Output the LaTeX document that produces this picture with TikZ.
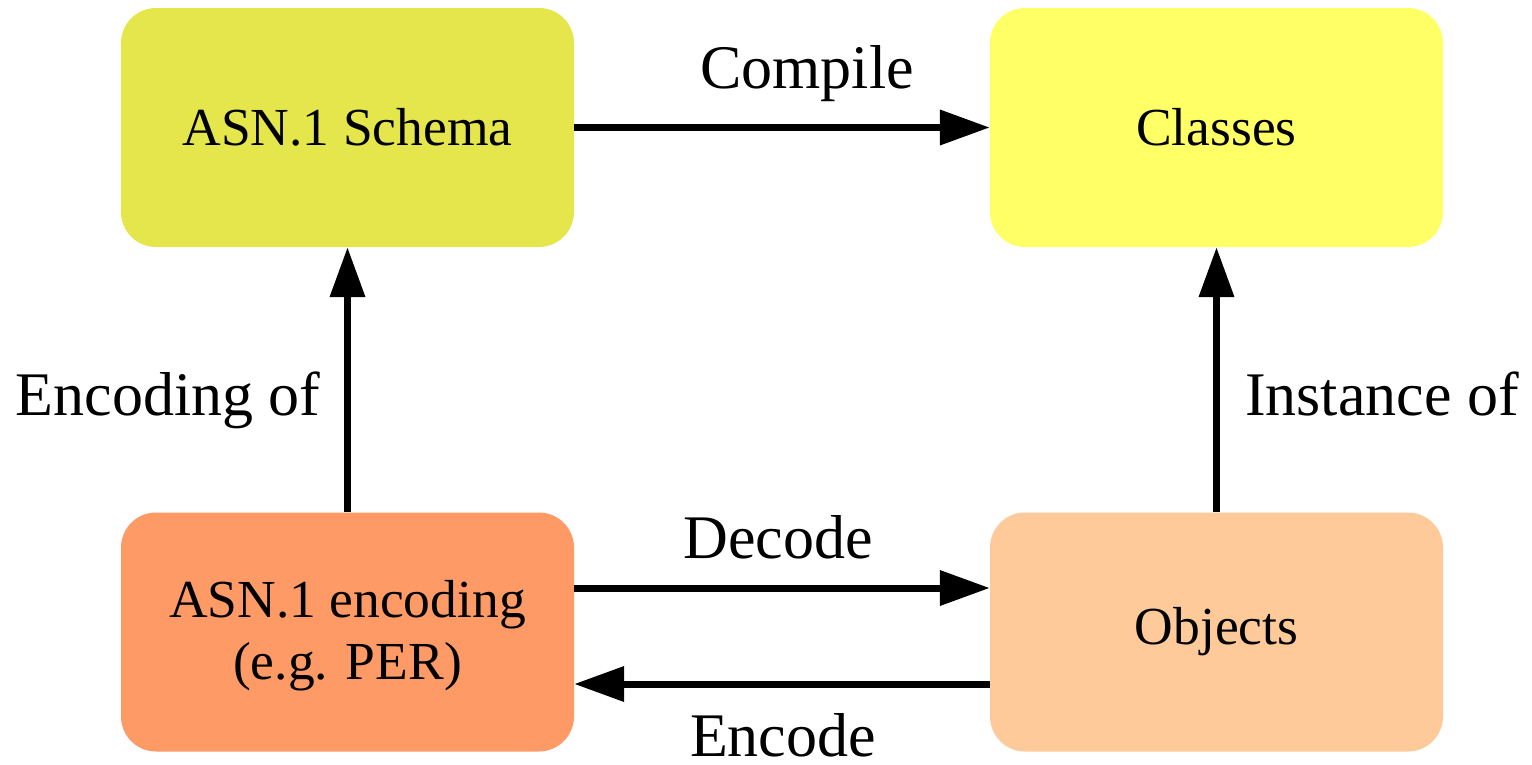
\documentclass[tikz,border=0pt]{standalone}
\usepackage{fontspec}
\setmainfont{Liberation Serif}
\usetikzlibrary{arrows.meta}
\definecolor{cschema}{HTML}{E5E54C}
\definecolor{cclasses}{HTML}{FFFF66}
\definecolor{cencoding}{HTML}{FD9A66}
\definecolor{cobjects}{HTML}{FECA99}
\begin{document}
\begin{tikzpicture}[x=1pt,y=-1pt,
  box/.style={rounded corners=35pt, minimum width=453pt, minimum height=239pt,
    inner sep=0pt, align=center, font=\fontsize{53.5}{62}\selectfont},
  lbl/.style={anchor=base, inner sep=0pt, font=\fontsize{62}{70}\selectfont},
  conn/.style={line width=7pt, -{Triangle[length=50pt,width=34pt]}}]
\useasboundingbox (0,0) rectangle (1532,764);
\node[box, fill=cschema]   (tl) at (347.5,127.5) {ASN.1 Schema};
\node[box, fill=cclasses]  (tr) at (1216.5,127.5) {Classes};
\node[box, fill=cencoding] (bl) at (347.5,632) {\rule{0pt}{44.5pt}ASN.1 encoding\\(e.g. PER)};
\node[box, fill=cobjects]  (br) at (1216.5,632) {Objects};
\draw[conn] (tl.east) -- (tr.west);
\draw[conn] (bl.north) -- (tl.south);
\draw[conn] (br.north) -- (tr.south);
\draw[conn] ([yshift=44pt]bl.east) -- ([yshift=44pt]br.west);
\draw[conn] ([yshift=-52pt]br.west) -- ([yshift=-52pt]bl.east);
\node[lbl] (lcompile) at (807,88) {Compile};
\node[lbl] (ldecode) at (778,558) {Decode};
\node[lbl] (lencode) at (783,756) {Encode};
\node[lbl] (lencof) at (168,415) {Encoding of};
\node[lbl] (linst) at (1382,415) {Instance of};
\end{tikzpicture}
\end{document}
